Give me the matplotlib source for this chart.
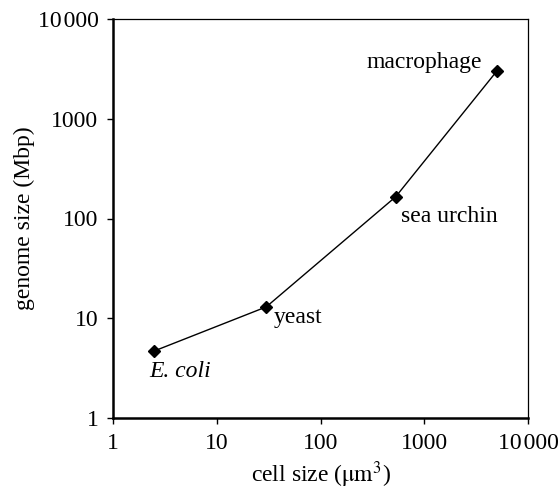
import numpy as np
import matplotlib
matplotlib.use('Agg')
import matplotlib.pyplot as plt

# cell volume (um^3) vs genome size (Mbp)
organisms = ['E. coli', 'yeast', 'sea urchin', 'macrophage']
cell_size = [2.5, 30, 530, 5000]
genome_size = [4.7, 13, 165, 3000]
decades = [1, 10, 100, 1000, 10000]
decade_labels = ['1', '10', '100', '1000', '10\u200a000']

plt.rcParams['font.family'] = ['Liberation Serif', 'DejaVu Serif']
plt.rcParams['mathtext.fontset'] = 'stix'

fs = 17

fig = plt.figure(figsize=(5.59, 4.92), dpi=100)
ax = fig.add_axes([113/559, 74/492, 415/559, 399/492])

ax.plot(cell_size, genome_size, color='black', linewidth=1.0,
        marker='D', markersize=6.5, markerfacecolor='black', markeredgecolor='black')

ax.set_xscale('log')
ax.set_yscale('log')
ax.set_xlim(1, 10000)
ax.set_ylim(1, 10000)
ax.set_xticks(decades)
ax.set_xticklabels(decade_labels)
ax.set_yticks(decades)
ax.set_yticklabels(decade_labels)
ax.minorticks_off()
ax.tick_params(direction='out', length=4.5, width=1.0, labelsize=fs)
ax.tick_params(axis='y', pad=6)
ax.tick_params(axis='x', pad=6)

for side in ['left', 'bottom']:
    ax.spines[side].set_linewidth(1.8)
for side in ['top', 'right']:
    ax.spines[side].set_linewidth(0.9)

# organism labels next to their points
ax.annotate(organisms[0], (cell_size[0], genome_size[0]), xytext=(-3.6, -15),
            textcoords='offset points', fontsize=fs, style='italic', va='center')
ax.annotate(organisms[1], (cell_size[1], genome_size[1]), xytext=(5.5, -8),
            textcoords='offset points', fontsize=fs, va='center')
ax.annotate(organisms[2], (cell_size[2], genome_size[2]), xytext=(3.6, -14.4),
            textcoords='offset points', fontsize=fs, va='center')
ax.annotate(organisms[3], (cell_size[3], genome_size[3]), xytext=(-10.5, 6.3),
            textcoords='offset points', fontsize=fs, va='center', ha='right')

ax.set_xlabel(r'cell size ($\mathrm{\mu m^3}$)', fontsize=fs, labelpad=4)
ax.set_ylabel('genome size (Mbp)', fontsize=fs, labelpad=2)

fig.savefig('out.png', dpi=100)
